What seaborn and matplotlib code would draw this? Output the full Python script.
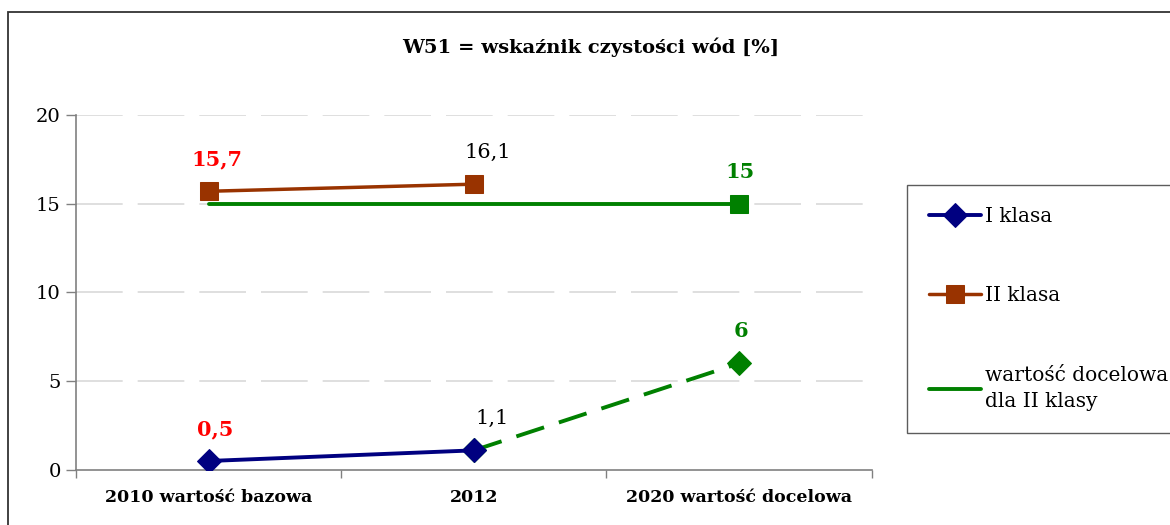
import numpy as np
import matplotlib
matplotlib.use("Agg")
import matplotlib.pyplot as plt
import seaborn as sns
from matplotlib.patches import Rectangle

# Data
categories = ["2010 wartość bazowa", "2012", "2020 wartość docelowa"]
klasa_1 = [0.5, 1.1, np.nan]
klasa_2 = [15.7, 16.1, np.nan]
cel_klasa_2 = [15, 15, 15]
prognoza_1 = [np.nan, 1.1, 6]

label_texts = ["15,7", "16,1", "15", "0,5", "1,1", "6"]
label_values = [15.7, 16.1, 15, 0.5, 1.1, 6]
label_idx = [0, 1, 2, 0, 1, 2]

sns.set_theme(style="white")
plt.rcParams["font.family"] = ["DejaVu Serif", "DejaVu Sans"]
plt.rcParams["text.color"] = "black"
plt.rcParams["xtick.color"] = "black"
plt.rcParams["ytick.color"] = "black"

navy = "#000080"
brown = "#993300"
green = "#008000"

fig = plt.figure(figsize=(11.7, 5.25), dpi=100)
ax = fig.add_axes([0.065, 0.105, 0.68, 0.676])

x = np.arange(len(categories))

# grid
for v in [5, 10, 15, 20]:
    ax.axhline(v, color="#d9d9d9", lw=1.2, dashes=(28, 9), zorder=0)

sns.lineplot(x=x, y=cel_klasa_2, color=green, lw=2.8, ax=ax,
             label="wartość docelowa\ndla II klasy", zorder=2)
sns.lineplot(x=x, y=prognoza_1, color=green, lw=2.8, ax=ax,
             dashes=False, linestyle=(0, (7.5, 4)), marker="D", markersize=12,
             markeredgecolor=green, legend=False, zorder=2)
sns.lineplot(x=x[2:], y=cel_klasa_2[2:], color=green, ax=ax, marker="s",
             markersize=13, markeredgecolor=green, lw=0, legend=False, zorder=3)
sns.lineplot(x=x, y=klasa_2, color=brown, lw=2.5, ax=ax, marker="s",
             markersize=13, markeredgecolor=brown, label="II klasa", zorder=3)
sns.lineplot(x=x, y=klasa_1, color=navy, lw=2.8, ax=ax, marker="D",
             markersize=12, markeredgecolor=navy, label="I klasa", zorder=3)

# data labels
label_colors = ["red", "black", green, "red", "black", green]
label_weights = ["bold", "normal", "bold", "bold", "normal", "bold"]
label_dx = [6, 10, 1, 5, 13, 1]
for t, v, i, c, w, dx in zip(label_texts, label_values, label_idx,
                             label_colors, label_weights, label_dx):
    ax.annotate(t, (x[i], v), xytext=(dx, 23), textcoords="offset points",
                ha="center", va="center", color=c, fontweight=w, fontsize=15)

ax.set_xlim(-0.5, 2.5)
ax.set_ylim(0, 20)
ax.set_yticks([0, 5, 10, 15, 20])
ax.set_xticks(x)
ax.set_xticklabels(categories, fontweight="bold", fontsize=12.5)
ax.set_xticks([-0.5, 0.5, 1.5, 2.5], minor=True)
ax.tick_params(axis="x", which="major", length=0, pad=14)
ax.tick_params(axis="x", which="minor", length=6, width=1, color="#808080",
               direction="out", bottom=True)
ax.tick_params(axis="y", length=7, width=1, color="#808080", direction="out",
               left=True, labelsize=14, pad=4)
for s in ["top", "right"]:
    ax.spines[s].set_visible(False)
for s in ["left", "bottom"]:
    ax.spines[s].set_color("#808080")
    ax.spines[s].set_linewidth(1.2)
ax.set_xlabel("")
ax.set_ylabel("")

# legend
handles, labels = ax.get_legend_handles_labels()
order = [labels.index("I klasa"), labels.index("II klasa"),
         labels.index("wartość docelowa\ndla II klasy")]
leg = fig.legend([handles[i] for i in order], [labels[i] for i in order],
                 loc="upper left", bbox_to_anchor=(0.775, 0.648),
                 fontsize=14.5, frameon=True, fancybox=False, edgecolor="#333333",
                 labelspacing=3.0, handlelength=2.6, handletextpad=0.2,
                 borderpad=1.1, borderaxespad=0)
leg.get_frame().set_linewidth(1)
leg.get_texts()[2].set_linespacing(1.5)
ax.get_legend().remove()

fig.text(0.505, 0.91, "W51 = wskaźnik czystości wód [%]", ha="center",
         va="center", fontsize=14, fontweight="bold")

# outer chart border
fig.patches.append(Rectangle((0.007, -0.05), 1.1, 1.027, transform=fig.transFigure,
                             fill=False, edgecolor="#333333", lw=1.3))

fig.savefig("out.png", dpi=100)
